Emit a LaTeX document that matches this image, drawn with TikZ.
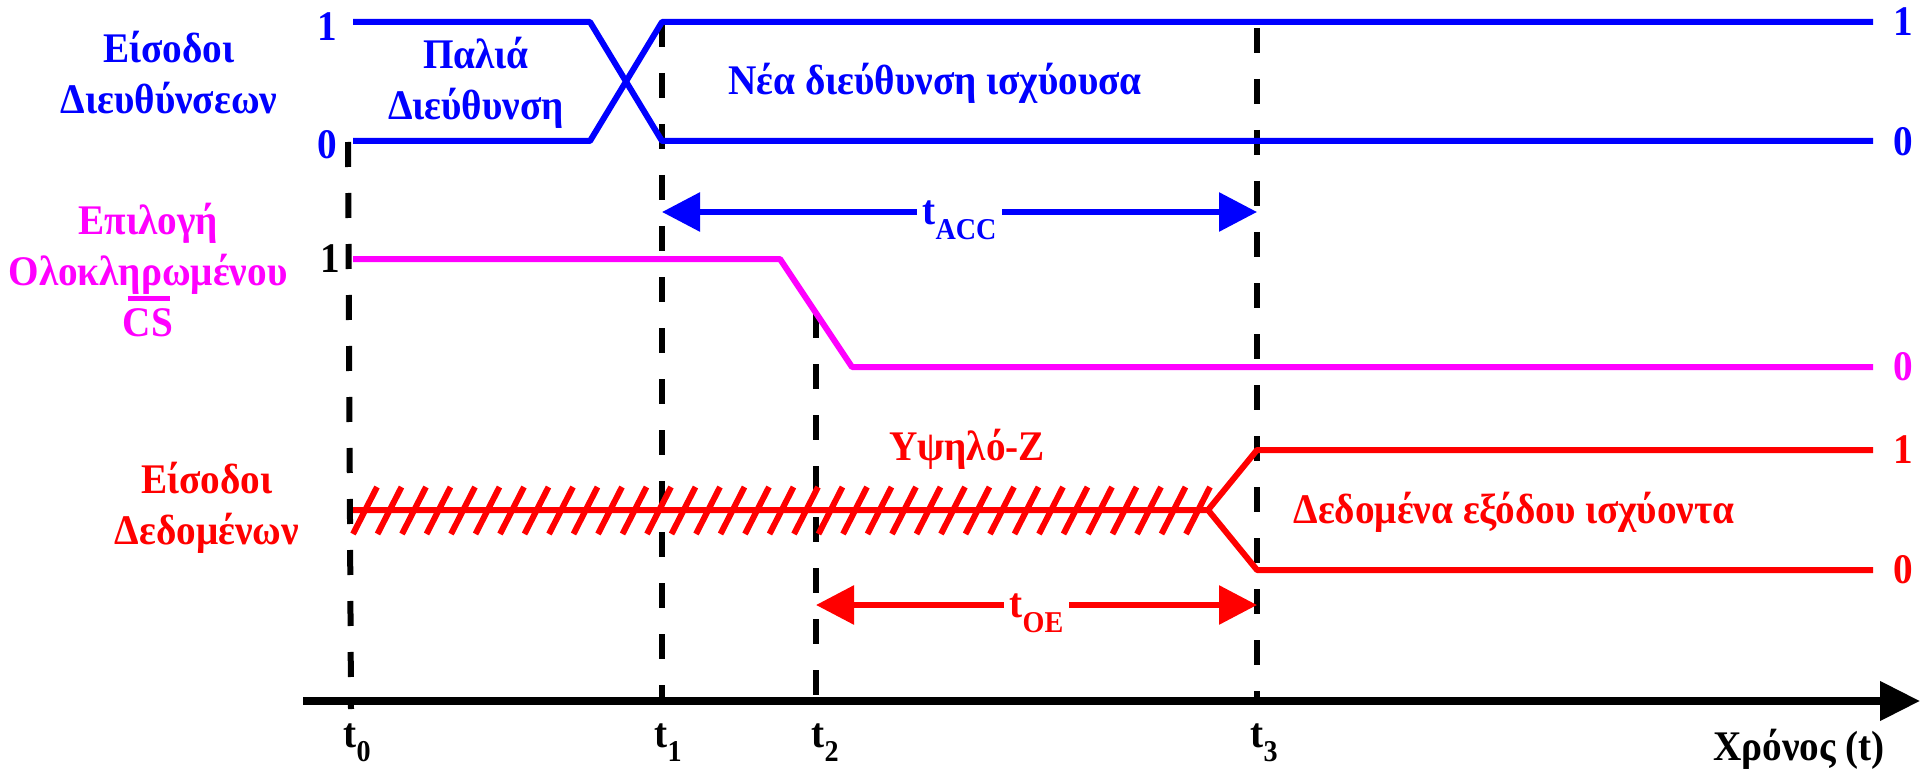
\documentclass[tikz,border=0pt]{standalone}
\usepackage{fontspec}
\setmainfont{Liberation Serif}[FakeStretch=0.93]
\usepackage{xcolor}
\definecolor{addr}{RGB}{0,0,255}
\definecolor{chip}{RGB}{255,0,255}
\definecolor{data}{RGB}{255,0,0}
\usetikzlibrary{arrows.meta}
\newcommand{\tsub}[2]{#1\raisebox{-0.35em}{\fontsize{8.6}{9}\selectfont #2}}
\tikzset{
  every picture/.style={font=\fontsize{12}{14.5}\selectfont\bfseries, line width=0.6mm},
  wave/.style={line width=0.6mm, line join=round, draw=#1},
  guide/.style={draw=black, line width=0.6mm, dash pattern=on 2.5mm off 2.6mm},
  span/.style={{Triangle[length=3.8mm,width=3.8mm]}-{Triangle[length=3.8mm,width=3.8mm]}, line width=0.6mm, draw=#1},
  lbl/.style={align=center, inner sep=0pt, text=#1},
  lvl/.style={inner sep=0pt, text=#1},
  lvl/.default=black,
  gaplabel/.style={fill=white, inner sep=1.5pt, text=#1},
}

\begin{document}
\begin{tikzpicture}
  \useasboundingbox (0,0) rectangle (19.2,-7.71);
  \node[lbl=addr] (adr) at (1.69,-0.73) {Είσοδοι\\Διευθύνσεων};
  \node[lbl=addr] (old) at (4.76,-0.83) {Παλιά\\Διεύθυνση};
  \node[lbl=addr, anchor=base] (new) at (9.35,-0.95) {Νέα διεύθυνση ισχύουσα};
  \node[lbl=chip] (cs) at (1.48,-2.70) {Επιλογή\\Ολοκληρωμένου\\\smash{\rlap{\hspace{0.05cm}\rule[10.2pt]{0.42cm}{1.2pt}}}CS};
  \node[lbl=data] (din) at (2.07,-5.08) {Είσοδοι\\Δεδομένων};
  \node[lbl=data, anchor=base] (hiz) at (9.67,-4.60) {Υψηλό-Z};
  \node[lbl=data, anchor=base] (dout) at (15.14,-5.23) {Δεδομένα εξόδου ισχύοντα};
  \node[lvl=addr] (a1) at (3.27,-0.27) {1};
  \node[lvl=addr] (a0) at (3.27,-1.45) {0};
  \node[lvl] (c1) at (3.30,-2.59) {1};
  \foreach \y/\c/\v [count=\i] in {0.22/addr/1, 1.42/addr/0, 3.67/chip/0, 4.50/data/1, 5.70/data/0}
    \node[lvl=\c] (r\i) at (19.03,-\y) {\v};
  \draw[guide] (3.48,-1.42) -- (3.51,-7.09);
  \draw[guide] (6.62,-0.22) -- (6.62,-7.01);
  \draw[guide] (8.16,-3.13) -- (8.16,-6.95);
  \draw[guide] (12.57,-0.28) -- (12.57,-7.01);
  \draw[wave=addr] (3.53,-0.22) -- (5.90,-0.22) -- (6.62,-1.41) -- (18.73,-1.41);
  \draw[wave=addr] (3.53,-1.41) -- (5.90,-1.41) -- (6.62,-0.22) -- (18.73,-0.22);
  \draw[wave=chip] (3.53,-2.59) -- (7.80,-2.59) -- (8.52,-3.67) -- (18.73,-3.67);
  \draw[wave=data] (3.53,-5.10) -- (12.08,-5.10) -- (12.57,-4.50) -- (18.73,-4.50);
  \draw[wave=data] (12.08,-5.10) -- (12.57,-5.70) -- (18.73,-5.70);
  \foreach \k in {0,...,34}
    \draw[wave=data] ({3.53+0.245*\k},-5.34) -- ++(0.24,0.47);
  \coordinate (acc-l) at (6.62,-2.12);
  \coordinate (acc-r) at (12.57,-2.12);
  \draw[span=addr] (acc-l) -- node[gaplabel=addr, yshift=-0.08cm] (acc) {\tsub{t}{ACC}} (acc-r);
  \coordinate (oe-l) at (8.16,-6.05);
  \coordinate (oe-r) at (12.57,-6.05);
  \draw[span=data] (oe-l) -- node[gaplabel=data, yshift=-0.08cm] (oe) {\tsub{t}{OE}} (oe-r);
  \draw[line width=0.75mm, -{Triangle[length=4.0mm,width=3.8mm]}] (3.03,-7.01) -- (19.2,-7.01);
  \foreach \x/\n in {3.50/0, 6.61/1, 8.18/2, 12.57/3}
    \node[lvl, anchor=base] (tl\n) at (\x+0.07,-7.47) {\tsub{t}{\n}};
  \node[lvl, anchor=base] (time) at (17.99,-7.60) {Χρόνος (t)};
\end{tikzpicture}
\end{document}
